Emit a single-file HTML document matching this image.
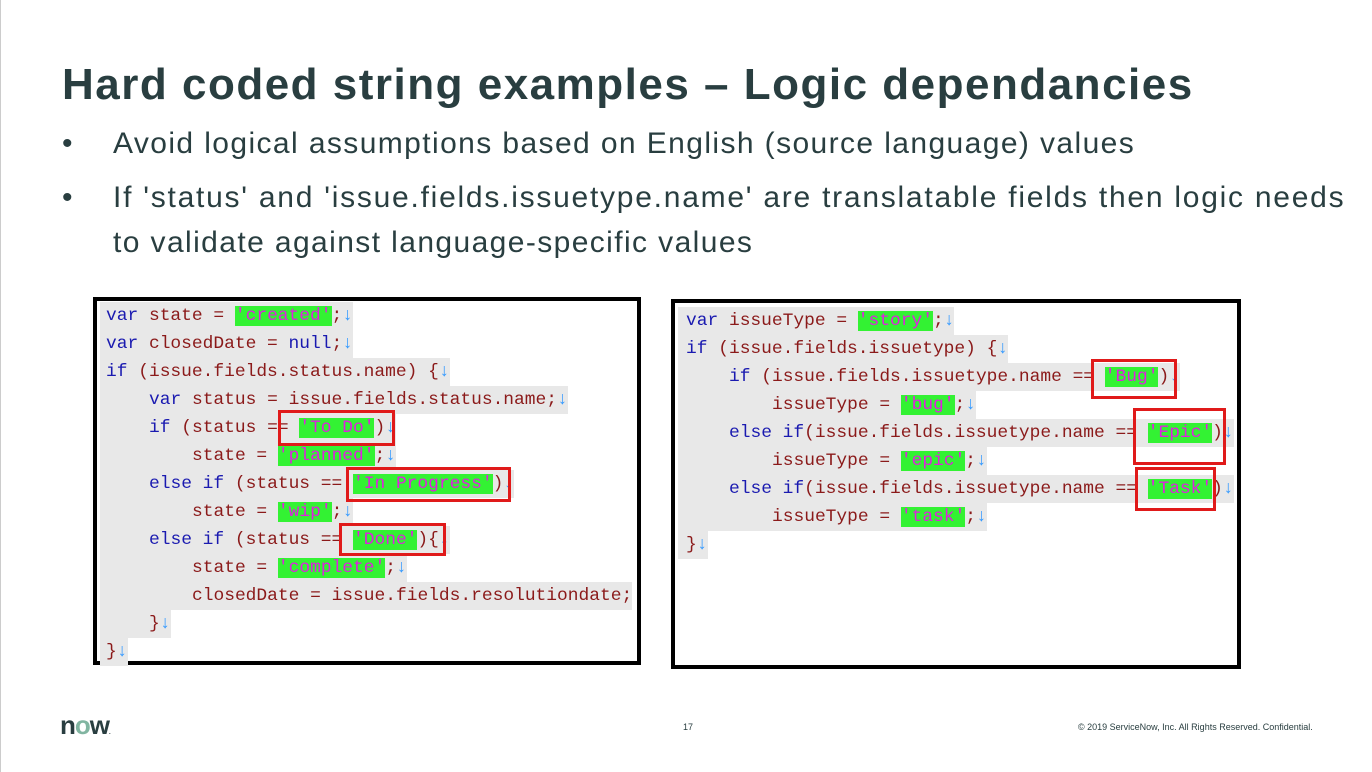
<!DOCTYPE html>
<html><head><meta charset="utf-8"><style>
body{margin:0;width:1372px;height:772px;background:#fff;position:relative;overflow:hidden;font-family:"Liberation Sans",sans-serif;}
.t{position:absolute;left:62px;top:60px;font-size:44px;letter-spacing:1.5px;font-weight:bold;color:#293e40;white-space:nowrap;}
.b{position:absolute;font-size:30px;letter-spacing:1.4px;color:#293e40;white-space:nowrap;}
.box{position:absolute;border:4px solid #000;box-sizing:border-box;background:#fff;}
.l{position:absolute;height:28px;line-height:28px;font-family:"Liberation Mono",monospace;font-size:17.9px;white-space:pre;background:#e8e8e8;color:#8b1a1a;}
.k{color:#1a1ab0}.s{background:#33f233;color:#e020e0}.a{color:#3399ff}
.r{position:absolute;border:3px solid #e01a1a;box-sizing:border-box;}
</style></head><body>
<div style="position:absolute;left:0;top:0;width:1px;height:772px;background:#ccc"></div>
<div class="t">Hard coded string examples – Logic dependancies</div>
<div class="b" style="left:62px;top:127px;letter-spacing:0">•</div>
<div class="b" style="left:113px;top:127px">Avoid logical assumptions based on English (source language) values</div>
<div class="b" style="left:62px;top:181px;letter-spacing:0">•</div>
<div class="b" style="left:113px;top:181px;letter-spacing:1.75px"> If 'status' and 'issue.fields.issuetype.name' are translatable fields then logic needs</div>
<div class="b" style="left:113px;top:226px">to validate against language-specific values</div>

<div class="box" style="left:93px;top:297px;width:548px;height:368px"></div>
<div class="l" style="left:100px;top:302px;padding-left:6px"><span class="k">var</span> state = <span class="s">'created'</span>;<span class="a">↓</span></div>
<div class="l" style="left:100px;top:330px;padding-left:6px"><span class="k">var</span> closedDate = <span class="k">null</span>;<span class="a">↓</span></div>
<div class="l" style="left:100px;top:358px;padding-left:6px"><span class="k">if</span> (issue.fields.status.name) {<span class="a">↓</span></div>
<div class="l" style="left:100px;top:386px;padding-left:49px"><span class="k">var</span> status = issue.fields.status.name;<span class="a">↓</span></div>
<div class="l" style="left:100px;top:414px;padding-left:49px"><span class="k">if</span> (status == <span class="s">'To Do'</span>)<span class="a">↓</span></div>
<div class="l" style="left:100px;top:442px;padding-left:92px">state = <span class="s">'planned'</span>;<span class="a">↓</span></div>
<div class="l" style="left:100px;top:470px;padding-left:49px"><span class="k">else if</span> (status == <span class="s">'In Progress'</span>)<span class="a">↓</span></div>
<div class="l" style="left:100px;top:498px;padding-left:92px">state = <span class="s">'wip'</span>;<span class="a">↓</span></div>
<div class="l" style="left:100px;top:526px;padding-left:49px"><span class="k">else if</span> (status == <span class="s">'Done'</span>){<span class="a">↓</span></div>
<div class="l" style="left:100px;top:554px;padding-left:92px">state = <span class="s">'complete'</span>;<span class="a">↓</span></div>
<div class="l" style="left:100px;top:582px;padding-left:92px">closedDate = issue.fields.resolutiondate;</div>
<div class="l" style="left:100px;top:610px;padding-left:49px">}<span class="a">↓</span></div>
<div class="l" style="left:100px;top:638px;padding-left:6px">}<span class="a">↓</span></div>
<div class="r" style="left:278px;top:410px;width:117px;height:36px"></div>
<div class="r" style="left:346px;top:467px;width:165px;height:35px"></div>
<div class="r" style="left:339px;top:523px;width:107px;height:33px"></div>

<div class="box" style="left:671px;top:299px;width:570px;height:370px"></div>
<div class="l" style="left:678px;top:307px;padding-left:8px"><span class="k">var</span> issueType = <span class="s">'story'</span>;<span class="a">↓</span></div>
<div class="l" style="left:678px;top:335px;padding-left:8px"><span class="k">if</span> (issue.fields.issuetype) {<span class="a">↓</span></div>
<div class="l" style="left:678px;top:363px;padding-left:51px"><span class="k">if</span> (issue.fields.issuetype.name == <span class="s">'Bug'</span>)<span class="a">↓</span></div>
<div class="l" style="left:678px;top:391px;padding-left:94px">issueType = <span class="s">'bug'</span>;<span class="a">↓</span></div>
<div class="l" style="left:678px;top:419px;padding-left:51px"><span class="k">else if</span>(issue.fields.issuetype.name == <span class="s">'Epic'</span>)<span class="a">↓</span></div>
<div class="l" style="left:678px;top:447px;padding-left:94px">issueType = <span class="s">'epic'</span>;<span class="a">↓</span></div>
<div class="l" style="left:678px;top:475px;padding-left:51px"><span class="k">else if</span>(issue.fields.issuetype.name == <span class="s">'Task'</span>)<span class="a">↓</span></div>
<div class="l" style="left:678px;top:503px;padding-left:94px">issueType = <span class="s">'task'</span>;<span class="a">↓</span></div>
<div class="l" style="left:678px;top:531px;padding-left:8px">}<span class="a">↓</span></div>
<div class="r" style="left:1091px;top:359px;width:86px;height:40px"></div>
<div class="r" style="left:1133px;top:408px;width:93px;height:57px"></div>
<div class="r" style="left:1135px;top:467px;width:81px;height:44px"></div>

<div style="position:absolute;left:60px;top:710px;font-size:26px;font-weight:bold;color:#293e40;letter-spacing:-1px">n<span style="color:#81b5a1">o</span>w<span style="font-size:6px">.</span></div>
<div style="position:absolute;left:683px;top:722px;font-size:9px;color:#293e40">17</div>
<div style="position:absolute;left:1078px;top:722px;font-size:9px;color:#293e40">© 2019 ServiceNow, Inc. All Rights Reserved. Confidential.</div>
</body></html>
